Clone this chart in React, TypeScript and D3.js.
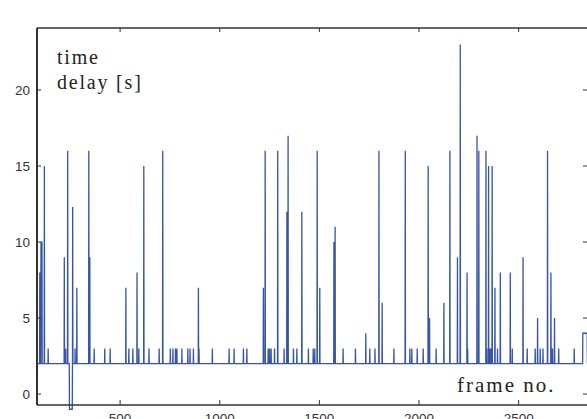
import React from 'react';
import * as d3 from 'd3';

// frame range shown and the resting delay level
const frameStart = 83;
const frameEnd = 2845;
const baseDelay = 2;

// tall spikes: frame where it starts, its value, and how many frames it lasts
const spikeFrames = [97, 103, 120, 220, 237, 246, 262, 283, 343, 348, 529, 585, 619, 714, 893,
  1219, 1228, 1291, 1337, 1343, 1412, 1489, 1502, 1573, 1579, 1733, 1799, 1815, 1931,
  2046, 2053, 2125, 2155, 2193, 2207, 2241, 2291, 2300, 2336, 2349, 2367, 2381, 2408,
  2458, 2522, 2595, 2645, 2662, 2680, 2822];
const spikeValues = [8, 10, 15, 9, 16, -1, 12.3, 7, 16, 9, 7, 8, 15, 16, 7,
  7, 16, 16, 12, 17, 12, 16, 7, 10, 11, 4, 16, 6, 16,
  15, 5, 6, 16, 9, 23, 8, 17, 16, 16, 15, 15, 7, 8,
  8, 9, 5, 16, 8, 5, 4];
const spikeWidths = [1, 6, 1, 1, 1, 15, 1, 1, 1, 1, 1, 1, 1, 1, 1,
  1, 1, 1, 1, 1, 1, 1, 1, 1, 1, 1, 1, 1, 1,
  1, 1, 1, 1, 1, 1, 1, 1, 1, 1, 1, 1, 1, 1,
  1, 1, 1, 1, 1, 1, 23];

// small bumps up to 3 s
const smallFrames = [139, 227, 274, 370, 423, 450, 544, 564, 594, 645, 696, 752, 765, 778, 785,
  810, 840, 851, 868, 896, 963, 1047, 1072, 1119, 1136, 1243, 1250, 1258, 1275, 1323,
  1370, 1387, 1445, 1469, 1477, 1619, 1681, 1753, 1779, 1874, 1954, 1964, 1991, 2021,
  2086, 2244, 2340, 2356, 2362, 2394, 2468, 2543, 2583, 2608, 2622, 2665, 2670, 2701, 2779];
const smallValue = 3;

const xTicks = [500, 1000, 1500, 2000, 2500];
const yTicks = [0, 5, 10, 15, 20];

const W = 587;
const H = 419;

export default function App() {
  const x = d3.scaleLinear().domain([frameStart, 2848]).range([37, 588]);
  const y = d3.scaleLinear().domain([-0.72, 24.08]).range([405, 28]);

  const vals = new Map<number, number>();
  smallFrames.forEach((f) => vals.set(f, smallValue));
  spikeFrames.forEach((f, i) => {
    for (let k = 0; k < spikeWidths[i]; k++) vals.set(f + k, spikeValues[i]);
  });
  const pts: [number, number][] = [];
  for (let f = frameStart; f <= frameEnd; f++) {
    pts.push([f, vals.has(f) ? (vals.get(f) as number) : baseDelay]);
  }

  const line = d3.line<[number, number]>()
    .x((d) => x(d[0]))
    .y((d) => y(d[1]));

  const axisCol = '#333';
  const tickLen = 4;

  return (
    <svg width={W} height={H} style={{ position: 'fixed', left: 0, top: 0, background: '#fff' }}>
      <path d={line(pts) || ''} fill="none" stroke="#3655a6" strokeWidth={1.3} strokeLinejoin="miter" />

      {/* box */}
      <line x1={37} x2={588} y1={28} y2={28} stroke={axisCol} strokeWidth={1.5} />
      <line x1={37} x2={588} y1={405} y2={405} stroke={axisCol} strokeWidth={1.5} />
      <line x1={37} x2={37} y1={28} y2={405} stroke={axisCol} strokeWidth={2} />

      {xTicks.map((t) => (
        <g key={'x' + t}>
          <line x1={x(t)} x2={x(t)} y1={405} y2={405 - tickLen - 1} stroke={axisCol} strokeWidth={1} />
          <line x1={x(t)} x2={x(t)} y1={28} y2={28 + tickLen} stroke={axisCol} strokeWidth={1} />
          <text x={x(t)} y={423} textAnchor="middle" fontFamily="'Liberation Sans', Arial, sans-serif"
            fontSize={13.5} fill="#333">{t}</text>
        </g>
      ))}
      {yTicks.map((t) => (
        <g key={'y' + t}>
          <line x1={37} x2={37 + tickLen} y1={y(t)} y2={y(t)} stroke={axisCol} strokeWidth={1} />
          <line x1={587 - tickLen} x2={587} y1={y(t)} y2={y(t)} stroke={axisCol} strokeWidth={1} />
          <text x={30} y={y(t) + 5} textAnchor="end" fontFamily="'Liberation Sans', Arial, sans-serif"
            fontSize={13.5} fill="#333">{t}</text>
        </g>
      ))}

      <g fontFamily="'Liberation Serif', 'Times New Roman', serif" fill="#222">
        <text x={57} y={64} fontSize={20} letterSpacing={1.8}>time</text>
        <text x={57} y={89} fontSize={20} letterSpacing={1.8}>delay [s]</text>
        <text x={457} y={392} fontSize={21} letterSpacing={2}>frame no.</text>
      </g>
    </svg>
  );
}
